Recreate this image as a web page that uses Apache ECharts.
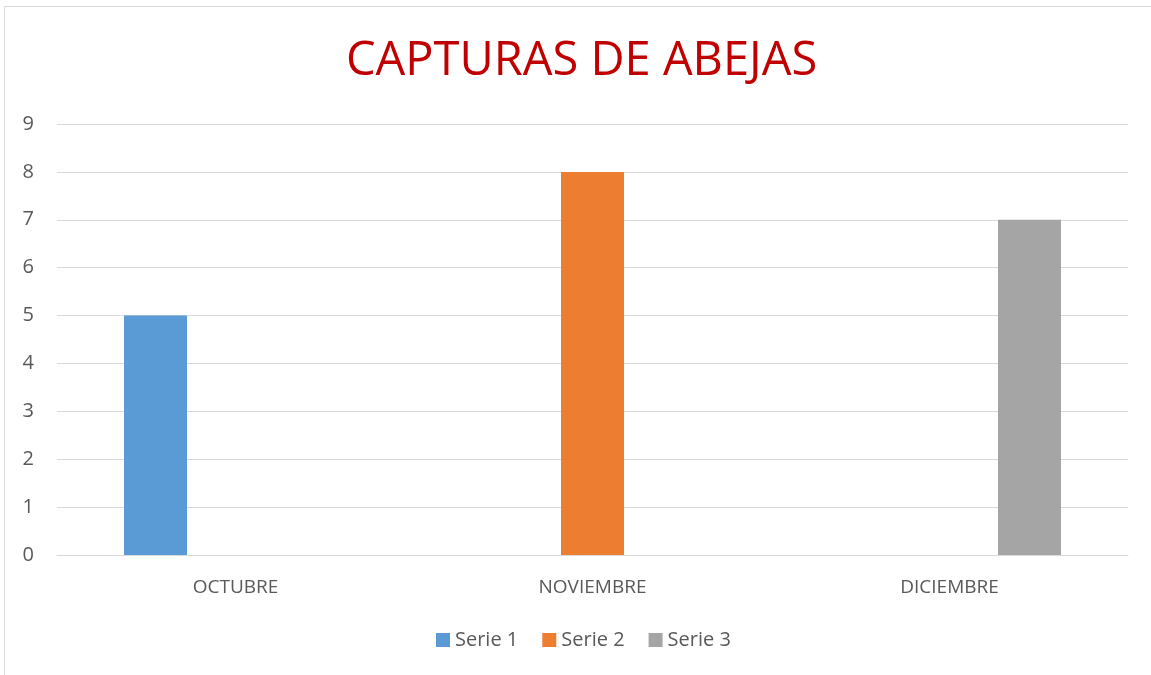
<!DOCTYPE html>
<html>
<head>
<meta charset="utf-8">
<script src="https://cdn.jsdelivr.net/npm/echarts@6/dist/echarts.min.js"></script>
<style>
    html, body { margin: 0; padding: 0; background: #fff; }
    #chart { width: 1151px; height: 675px; }
</style>
</head>
<body>
<div id="chart"></div>
<script>
    // datos
    var categories = ['OCTUBRE', 'NOVIEMBRE', 'DICIEMBRE'];
    var seriesNames = ['Serie 1', 'Serie 2', 'Serie 3'];
    var serie1 = [5, null, null];
    var serie2 = [null, 8, null];
    var serie3 = [null, null, 7];
    var colors = ['#5b9bd5', '#ed7d31', '#a5a5a5'];

    var chart = echarts.init(document.getElementById('chart'));
    var font = '"Open Sans", "Liberation Sans", sans-serif';

    var option = {
        animation: false,
        color: colors,
        title: {
            text: 'CAPTURAS DE ABEJAS',
            left: 341,
            top: 33,
            textStyle: { color: '#c00000', fontSize: 47, fontWeight: 'normal', fontFamily: font }
        },
        graphic: [{
            type: 'rect',
            shape: { x: 4.5, y: 6.5, width: 1200, height: 720 },
            style: { fill: 'none', stroke: '#d9d9d9', lineWidth: 1 },
            z: -1
        }],
        legend: {
            data: seriesNames,
            bottom: 20,
            left: 431,
            icon: 'rect',
            itemWidth: 14,
            itemHeight: 14,
            itemGap: 24,
            textStyle: { color: '#595959', fontSize: 20, fontFamily: font }
        },
        grid: { left: 57, right: 23, top: 124, bottom: 120 },
        xAxis: {
            type: 'category',
            data: categories,
            axisLine: { lineStyle: { color: '#d9d9d9' } },
            axisTick: { show: false },
            axisLabel: { color: '#595959', fontSize: 19, margin: 23, fontFamily: font }
        },
        yAxis: {
            type: 'value',
            min: 0,
            max: 9,
            interval: 1,
            axisLine: { show: false },
            axisTick: { show: false },
            splitLine: { lineStyle: { color: '#d9d9d9', width: 1 } },
            axisLabel: { color: '#595959', fontSize: 20, margin: 23, fontFamily: font }
        },
        series: [
            { name: seriesNames[0], type: 'bar', data: serie1, barWidth: 63, barGap: '27%' },
            { name: seriesNames[1], type: 'bar', data: serie2, barWidth: 63, barGap: '27%' },
            { name: seriesNames[2], type: 'bar', data: serie3, barWidth: 63, barGap: '27%' }
        ]
    };
    chart.setOption(option);
</script>
</body>
</html>
